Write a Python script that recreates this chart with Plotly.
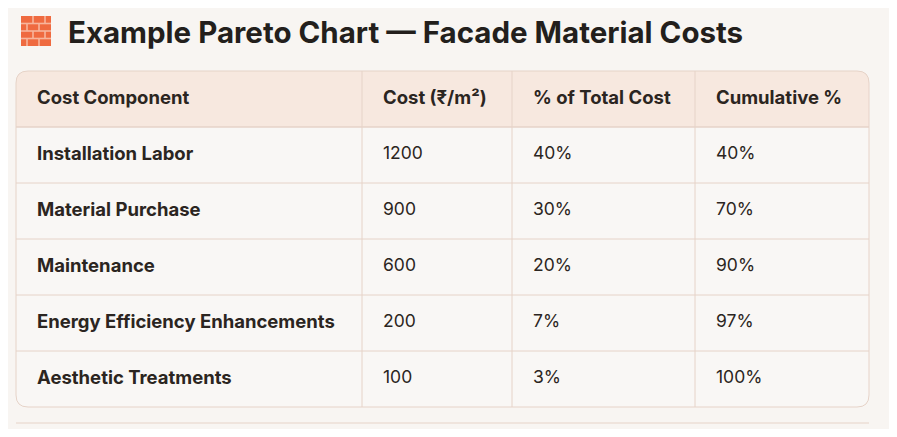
import plotly.graph_objects as go

# data
components = ["Installation Labor", "Material Purchase", "Maintenance",
              "Energy Efficiency Enhancements", "Aesthetic Treatments"]
costs = [1200, 900, 600, 200, 100]
share_pct = [40, 30, 20, 7, 3]
cumulative_pct = [40, 70, 90, 97, 100]
headers = ["Cost Component", "Cost (₹/m²)", "% of Total Cost", "Cumulative %"]

# layout helpers (pixel-like axis units)
W, H = 897, 437
OFF = 8                      # page body margin
col_w = [346, 150, 183, 174]
left, top, row_h, pad, rad = 16, 71, 56, 21, 12
bg = "#f8f5f2"
head_bg = "#f7e8df"
body_bg = "#f9f7f5"
border = "#e6d3c8"
txt = "#2b2521"
font_fam = "Inter, Lato, sans-serif"

columns = [
    components,
    [str(c) for c in costs],
    [str(p) + "%" for p in share_pct],
    [str(p) + "%" for p in cumulative_pct],
]
n_rows = len(components)

edges = [left]
for w in col_w:
    edges.append(edges[-1] + w)
right = edges[-1]
bottom = top + row_h * (n_rows + 1)
head_bot = top + row_h

fig = go.Figure()

# background fills
fig.add_shape(type="path", layer="below", line_width=0, fillcolor=head_bg,
              path=f"M {left},{head_bot} L {left},{top + rad} Q {left},{top} {left + rad},{top} "
                   f"L {right - rad},{top} Q {right},{top} {right},{top + rad} L {right},{head_bot} Z")
fig.add_shape(type="path", layer="below", line_width=0, fillcolor=body_bg,
              path=f"M {left},{head_bot} L {right},{head_bot} L {right},{bottom - rad} "
                   f"Q {right},{bottom} {right - rad},{bottom} L {left + rad},{bottom} "
                   f"Q {left},{bottom} {left},{bottom - rad} Z")

# grid lines
for i in range(1, n_rows + 1):
    y = top + row_h * i
    fig.add_shape(type="line", layer="below", x0=left, x1=right, y0=y, y1=y,
                  line=dict(color=border, width=1.3 if i == 1 else 1))
for x in edges[1:-1]:
    fig.add_shape(type="line", layer="below", x0=x, x1=x, y0=top, y1=bottom,
                  line=dict(color=border, width=1))

# outer rounded border
fig.add_shape(type="path", layer="below", fillcolor="rgba(0,0,0,0)",
              line=dict(color=border, width=1),
              path=f"M {left + rad},{top} L {right - rad},{top} Q {right},{top} {right},{top + rad} "
                   f"L {right},{bottom - rad} Q {right},{bottom} {right - rad},{bottom} "
                   f"L {left + rad},{bottom} Q {left},{bottom} {left},{bottom - rad} "
                   f"L {left},{top + rad} Q {left},{top} {left + rad},{top} Z")

# header text
fig.add_trace(go.Scatter(
    x=[e + pad for e in edges[:-1]], y=[top + row_h / 2] * len(headers),
    mode="text", text=["<b>" + h + "</b>" for h in headers],
    textposition="middle right", hoverinfo="skip",
    textfont=dict(family=font_fam, size=18.5, color=txt),
))

# cell text
for j, col in enumerate(columns):
    fig.add_trace(go.Scatter(
        x=[edges[j] + pad] * n_rows,
        y=[head_bot + row_h * (i + 0.5) for i in range(n_rows)],
        mode="text",
        text=["<b>" + v + "</b>" if j == 0 else v for v in col],
        textposition="middle right", hoverinfo="skip",
        textfont=dict(family=font_fam, size=18.5 if j == 0 else 17.5, color=txt),
    ))

# title
fig.add_annotation(
    x=66, y=32, xanchor="left", yanchor="middle", showarrow=False,
    text="<b>Example Pareto Chart — Facade Material Costs</b>",
    font=dict(family=font_fam, size=29.5, color="#231f1c"),
)

# brick icon
fig.add_shape(type="rect", x0=21, x1=51, y0=16, y1=46,
              fillcolor="#ef6a40", line_width=0)
for yy in [23.5, 31, 38.5]:
    fig.add_shape(type="line", x0=21, x1=51, y0=yy, y1=yy,
                  line=dict(color="#f7b59c", width=1.6))
for (xx, y0, y1) in [(33, 16, 23.5), (45, 16, 23.5), (27, 23.5, 31), (39, 23.5, 31),
                     (33, 31, 38.5), (45, 31, 38.5), (27, 38.5, 46), (39, 38.5, 46)]:
    fig.add_shape(type="line", x0=xx, x1=xx, y0=y0, y1=y1,
                  line=dict(color="#f7b59c", width=1.6))

# rule under the table
fig.add_shape(type="line", x0=left, x1=right, y0=423, y1=423,
              line=dict(color=border, width=1))

fig.update_layout(
    width=W - 2 * OFF, height=H - 2 * OFF,
    margin=dict(l=0, r=0, t=0, b=0),
    paper_bgcolor=bg,
    plot_bgcolor=bg,
    showlegend=False,
    xaxis=dict(range=[OFF, W - OFF], visible=False, fixedrange=True),
    yaxis=dict(range=[H - OFF, OFF], visible=False, fixedrange=True),
)

fig.write_html("out.html")
